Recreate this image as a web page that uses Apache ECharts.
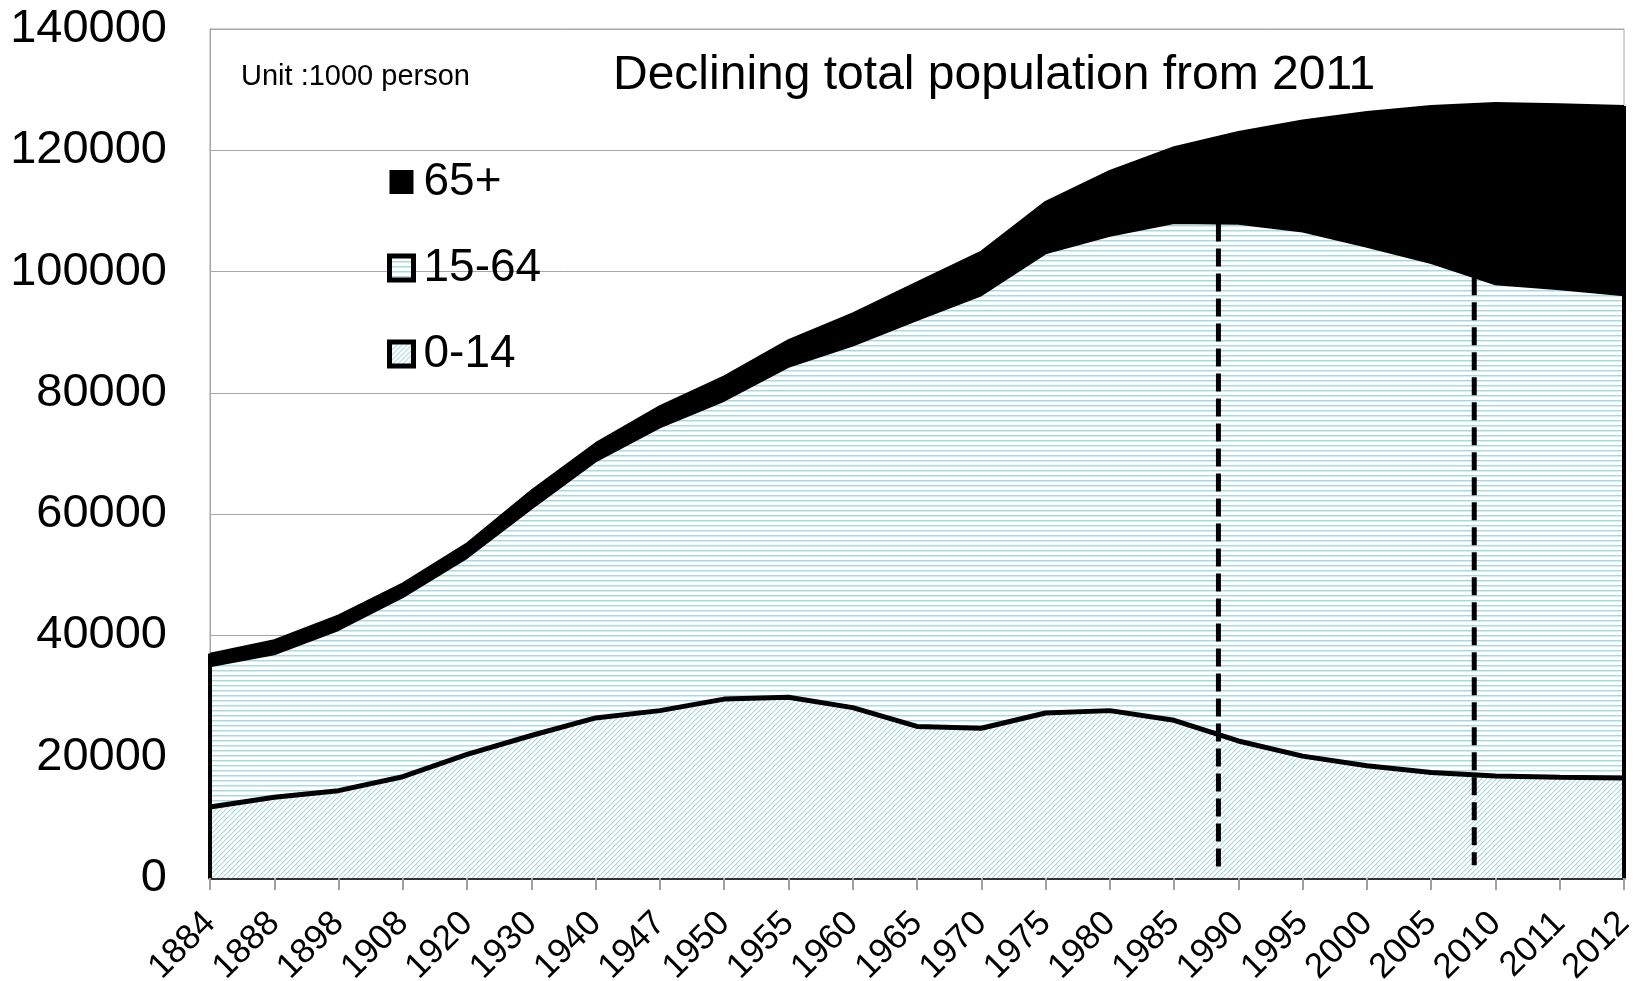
<!DOCTYPE html>
<html>
<head>
<meta charset="utf-8">
<script src="https://cdn.jsdelivr.net/npm/echarts@6/dist/echarts.min.js"></script>
<style>
  html, body { margin: 0; padding: 0; background: #fff; }
  #chart { width: 1643px; height: 981px; }
</style>
</head>
<body>
<div id="chart"></div>
<script>
// population by age group, unit: 1000 persons
const years = ['1884', '1888', '1898', '1908', '1920', '1930', '1940', '1947', '1950', '1955', '1960',
  '1965', '1970', '1975', '1980', '1985', '1990', '1995', '2000', '2005', '2010', '2011', '2012'];
const age0to14 = [11700, 13300, 14400, 16700, 20400, 23500, 26400, 27600, 29500, 29800, 28100,
  25000, 24700, 27200, 27600, 26000, 22600, 20100, 18500, 17400, 16800, 16600, 16500];
const age15to64 = [23200, 23600, 26500, 29600, 32400, 37400, 42300, 46700, 49200, 54500, 59700,
  67000, 71400, 75800, 78300, 82000, 85300, 86500, 85600, 84000, 81100, 80500, 79600];
const age65plus = [2100, 2300, 2400, 2300, 2400, 3000, 3000, 3500, 4000, 4400, 5300,
  6200, 7200, 8500, 10700, 12500, 15100, 18300, 22200, 25900, 29900, 30500, 31200];
const yTicks = [0, 20000, 40000, 60000, 80000, 100000, 120000, 140000];

// dashed markers, position in category steps from 1884
const dashMarks = [
  { at: 15.69, bottom: 800 },
  { at: 19.67, bottom: 2100 }
];

const font = 'Liberation Sans, Arial, sans-serif';

// fill patterns
function hatch(kind) {
  const c = document.createElement('canvas');
  c.width = 5; c.height = 5;
  const g = c.getContext('2d');
  g.fillStyle = '#ffffff';
  g.fillRect(0, 0, 5, 5);
  if (kind === 'h') {
    g.fillStyle = '#a9d9de';
    g.fillRect(0, 0, 5, 1);
    g.fillStyle = '#d6eef0';
    g.fillRect(0, 1, 5, 1);
  } else {
    for (let y = 0; y < 5; y++) {
      g.fillStyle = '#a9d9de';
      g.fillRect(4 - y, y, 1, 1);
      g.fillStyle = '#d6eef0';
      g.fillRect((5 - y) % 5, y, 1, 1);
    }
  }
  return { image: c, repeat: 'repeat' };
}
const diagFill = hatch('d');
const horzFill = hatch('h');

const lower = age0to14.map((v, i) => v + age15to64[i]);
const total = lower.map((v, i) => v + age65plus[i]);

function lowerAt(pos) {
  const i = Math.floor(pos), t = pos - i;
  return lower[i] + (lower[i + 1] - lower[i]) * t;
}

const helper = (data, extra) => Object.assign({
  type: 'line',
  xAxisIndex: 1,
  data: data,
  symbol: 'none',
  silent: true,
  z: 6,
  lineStyle: { color: '#000', width: 4 }
}, extra || {});

const chart = echarts.init(document.getElementById('chart'));
chart.setOption({
  animation: false,
  grid: {
    left: 210, right: 19, top: 29, bottom: 103,
    outerBoundsMode: 'none',
    containLabel: false,
    show: true, borderColor: '#a6a6a6', borderWidth: 1
  },
  legend: {
    orient: 'vertical',
    left: 387,
    top: 159,
    padding: 0,
    itemWidth: 24,
    itemHeight: 24,
    itemGap: 40,
    icon: 'rect',
    selectedMode: false,
    textStyle: { fontSize: 46, fontFamily: font, color: '#000', lineHeight: 46, padding: [0, 0, 0, 5] },
    data: [
      { name: '65+', itemStyle: { color: '#000', borderWidth: 0 } },
      { name: '15-64', itemStyle: { color: horzFill, borderColor: '#000', borderWidth: 5 } },
      { name: '0-14', itemStyle: { color: diagFill, borderColor: '#000', borderWidth: 5 } }
    ]
  },
  graphic: [
    {
      type: 'text', x: 613, y: 76,
      style: { text: 'Declining total population from 2011', fontSize: 48, fontFamily: font, fill: '#000', align: 'left', verticalAlign: 'middle' }
    },
    {
      type: 'text', x: 241, y: 77,
      style: { text: 'Unit :1000 person', fontSize: 29, fontFamily: font, fill: '#000', align: 'left', verticalAlign: 'middle' }
    }
  ],
  xAxis: [
    {
      type: 'category',
      data: years,
      boundaryGap: false,
      axisLine: { lineStyle: { color: '#333', width: 4 } },
      axisTick: { show: true, length: 12, lineStyle: { color: '#a0a0a0', width: 2 } },
      axisLabel: {
        interval: 0, rotate: 45, margin: 40, fontSize: 35, fontFamily: font, color: '#000',
        showMinLabel: true, showMaxLabel: true, hideOverlap: false
      },
      splitLine: { show: false }
    },
    { type: 'value', min: 0, max: years.length - 1, show: false }
  ],
  yAxis: {
    type: 'value',
    min: yTicks[0],
    max: yTicks[yTicks.length - 1],
    interval: yTicks[1] - yTicks[0],
    axisLine: { show: true, lineStyle: { color: '#a6a6a6', width: 1 } },
    axisTick: { show: false },
    axisLabel: { margin: 43, fontSize: 47, fontFamily: font, color: '#000', formatter: v => String(v) },
    splitLine: { lineStyle: { color: '#a6a6a6', width: 1 } }
  },
  series: [
    {
      name: '0-14', type: 'line', stack: 'pop', data: age0to14,
      symbol: 'none', z: 3,
      lineStyle: { color: '#000', width: 5 },
      itemStyle: { color: '#000' },
      areaStyle: { color: diagFill, opacity: 1 }
    },
    {
      name: '15-64', type: 'line', stack: 'pop', data: age15to64,
      symbol: 'none', z: 2,
      lineStyle: { color: '#000', width: 2 },
      itemStyle: { color: '#000' },
      areaStyle: { color: horzFill, opacity: 1 }
    },
    {
      name: '65+', type: 'line', stack: 'pop', data: age65plus,
      symbol: 'none', z: 2,
      lineStyle: { color: '#000', width: 2 },
      itemStyle: { color: '#000' },
      areaStyle: { color: '#000', opacity: 1 }
    },
    helper([[0, 0], [0, total[0]]]),
    helper([[years.length - 1, 0], [years.length - 1, total[years.length - 1]]]),
    helper([[dashMarks[0].at, lowerAt(dashMarks[0].at)], [dashMarks[0].at, dashMarks[0].bottom]],
      { lineStyle: { color: '#000', width: 5, type: [18, 7], cap: 'butt' } }),
    helper([[dashMarks[1].at, lowerAt(dashMarks[1].at)], [dashMarks[1].at, dashMarks[1].bottom]],
      { lineStyle: { color: '#000', width: 5, type: [18, 7], cap: 'butt' } })
  ]
});
</script>
</body>
</html>
